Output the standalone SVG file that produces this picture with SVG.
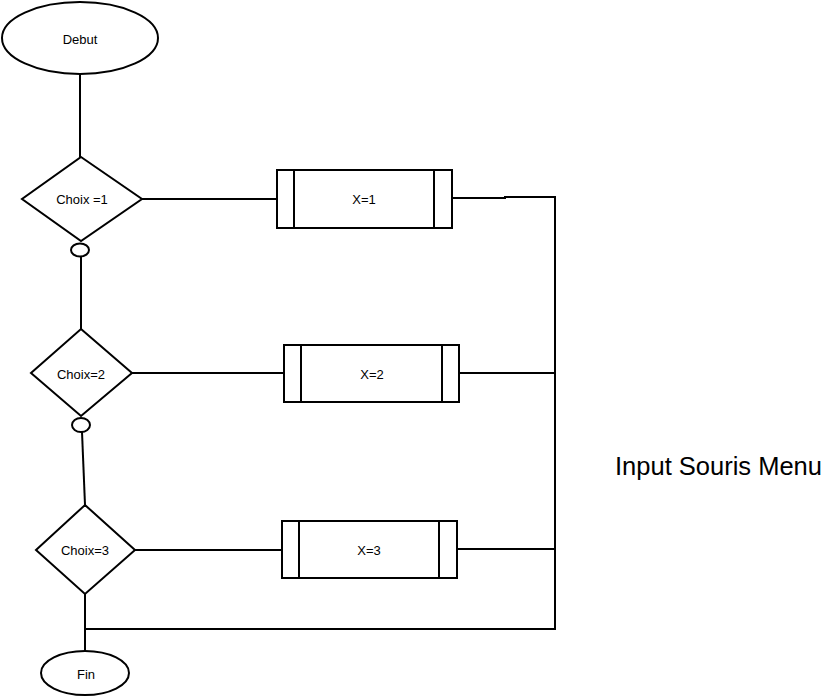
<svg xmlns="http://www.w3.org/2000/svg" width="830" height="699" viewBox="0 0 830 699">
<style>
.s{fill:#fff;stroke:#000;stroke-width:2}
.l{fill:none;stroke:#000;stroke-width:2}
.t{font-family:"Liberation Sans","DejaVu Sans",sans-serif;font-size:13px;fill:#000;text-anchor:middle;dominant-baseline:central}
.big{font-family:"Liberation Sans","DejaVu Sans",sans-serif;font-size:26px;fill:#000}
</style>
<rect width="830" height="699" fill="#fff"/>
<g id="connectors">
<line class="l" x1="80" y1="74" x2="80" y2="157"/>
<line class="l" x1="81" y1="256" x2="81" y2="329"/>
<line class="l" x1="82" y1="432" x2="85" y2="505"/>
<line class="l" x1="85" y1="594" x2="85" y2="651"/>
<line class="l" x1="142" y1="199" x2="277" y2="199"/>
<line class="l" x1="132" y1="373" x2="284" y2="373"/>
<line class="l" x1="135" y1="550" x2="282" y2="550"/>
<polyline class="l" points="452,198 505,198 505,197 555,197 555,629 85,629"/>
<line class="l" x1="459" y1="373" x2="555" y2="373"/>
<line class="l" x1="457" y1="549" x2="555" y2="549"/>
</g>
<g id="debut">
<ellipse class="s" cx="80" cy="38" rx="78" ry="36"/>
<text class="t" x="80" y="39">Debut</text>
</g>
<g id="choix1">
<polygon class="s" points="81,157 142,199 81,241 22,199"/>
<text class="t" x="82" y="199">Choix =1</text>
</g>
<g id="c1">
<ellipse class="s" cx="80" cy="250" rx="9" ry="6.5"/>
</g>
<g id="choix2">
<polygon class="s" points="81,329 132,373 81,416 31,373"/>
<text class="t" x="81" y="374">Choix=2</text>
</g>
<g id="c2">
<ellipse class="s" cx="81" cy="425" rx="9" ry="7"/>
</g>
<g id="choix3">
<polygon class="s" points="85,505 135,550 85,594 36,550"/>
<text class="t" x="85" y="550">Choix=3</text>
</g>
<g id="x1">
<rect class="s" x="277" y="170" width="175" height="58"/>
<line class="l" x1="294" y1="170" x2="294" y2="228"/>
<line class="l" x1="434" y1="170" x2="434" y2="228"/>
<text class="t" x="364" y="199">X=1</text>
</g>
<g id="x2">
<rect class="s" x="284" y="345" width="175" height="57"/>
<line class="l" x1="301" y1="345" x2="301" y2="402"/>
<line class="l" x1="442" y1="345" x2="442" y2="402"/>
<text class="t" x="372" y="374">X=2</text>
</g>
<g id="x3">
<rect class="s" x="282" y="521" width="175" height="57"/>
<line class="l" x1="299" y1="521" x2="299" y2="578"/>
<line class="l" x1="439" y1="521" x2="439" y2="578"/>
<text class="t" x="369" y="550">X=3</text>
</g>
<g id="fin">
<ellipse class="s" cx="85" cy="673" rx="44" ry="22"/>
<text class="t" x="86" y="674">Fin</text>
</g>
<text class="big" x="615" y="475" textLength="207" lengthAdjust="spacingAndGlyphs">Input Souris Menu</text>
</svg>
